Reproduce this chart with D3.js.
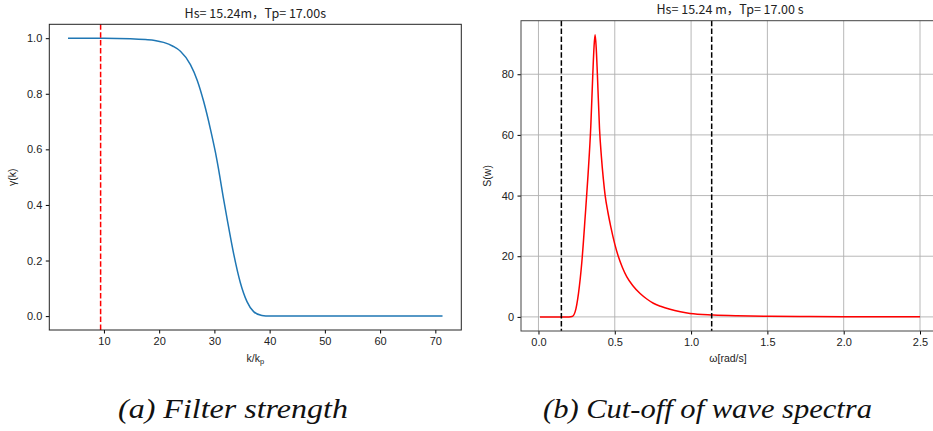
<!DOCTYPE html>
<html>
<head>
<meta charset="utf-8">
<script src="https://cdn.jsdelivr.net/npm/d3@7"></script>
<style>
  body { margin: 0; background: #fff; }
  svg { display: block; }
  .tick text { font-family: "Liberation Sans", Arial, sans-serif; font-size: 11px; fill: #222; }
</style>
</head>
<body>
<div id="chart"></div>
<script>
// Left panel: filter strength gamma(k) vs k/kp
var filterK   = [3.5, 10, 14.8, 17.5, 19.2, 20.8, 22.5, 23.85, 25.66, 26.9, 28.06, 29.27, 30.2, 30.96, 31.6, 32.3, 33.5, 34.7, 35.9, 37.1, 38.6, 40, 50, 60, 71.3];
var filterVal = [1, 1, 0.998, 0.995, 0.992, 0.985, 0.971, 0.953, 0.905, 0.848, 0.772, 0.674, 0.588, 0.505, 0.428, 0.35, 0.223, 0.12, 0.052, 0.016, 0.002, 0, 0, 0, 0];
var filterCut = 9.4;
var leftXTicks = [10, 20, 30, 40, 50, 60, 70];
var leftYTicks = [0.0, 0.2, 0.4, 0.6, 0.8, 1.0];

// Right panel: wave spectrum S(w) vs omega
var specW = [0.01, 0.1, 0.2, 0.22, 0.24, 0.262, 0.284, 0.306, 0.325, 0.343, 0.356, 0.364, 0.371, 0.378, 0.386, 0.400, 0.412, 0.425, 0.437, 0.455, 0.474, 0.5, 0.524, 0.55, 0.579, 0.62, 0.666, 0.71, 0.753, 0.8, 0.862, 0.93, 0.993, 1.146, 1.3, 1.5, 1.71, 2.0, 2.5];
var specS = [0, 0, 0, 0.1, 1.65, 7.7, 18, 33, 47, 63, 80, 89, 93, 89, 80, 62, 53, 45.5, 40, 34.5, 29.7, 24, 19.8, 16.3, 13.2, 10.2, 7.7, 5.9, 4.5, 3.5, 2.5, 1.7, 1.15, 0.66, 0.4, 0.22, 0.13, 0.07, 0.02];
var specCuts = [0.15, 1.135];
var rightXTicks = [0.0, 0.5, 1.0, 1.5, 2.0, 2.5];
var rightYTicks = [0, 20, 40, 60, 80];

var W = 933, H = 431;

var svg = d3.select("#chart").append("svg")
    .attr("width", W)
    .attr("height", H);

svg.append("rect").attr("width", W).attr("height", H).attr("fill", "#fff");

// ---------- left panel ----------
var L = {left: 49.3, right: 461.3, top: 24.3, bottom: 330};
var xL = d3.scaleLinear().domain([0.11, 74.7]).range([L.left, L.right]);
var yL = d3.scaleLinear().domain([-0.05, 1.05]).range([L.bottom, L.top]);

var gL = svg.append("g");

gL.append("path")
    .datum(filterK.map(function(k, i){ return [k, filterVal[i]]; }))
    .attr("fill", "none")
    .attr("stroke", "#1f77b4")
    .attr("stroke-width", 1.5)
    .attr("d", d3.line().x(d => xL(d[0])).y(d => yL(d[1])).curve(d3.curveMonotoneX));

gL.append("line")
    .attr("x1", xL(filterCut)).attr("x2", xL(filterCut))
    .attr("y1", L.top).attr("y2", L.bottom)
    .attr("stroke", "#ff0000")
    .attr("stroke-width", 1.5)
    .attr("stroke-dasharray", "5.5,2.4");

gL.append("g")
    .attr("transform", "translate(0," + L.bottom + ")")
    .call(d3.axisBottom(xL).tickValues(leftXTicks).tickFormat(d3.format("d")).tickSize(3.5).tickPadding(3.5))
    .call(g => g.select(".domain").remove());

gL.append("g")
    .attr("transform", "translate(" + L.left + ",0)")
    .call(d3.axisLeft(yL).tickValues(leftYTicks).tickFormat(d3.format(".1f")).tickSize(3.5).tickPadding(3.5))
    .call(g => g.select(".domain").remove());

gL.append("rect")
    .attr("x", L.left).attr("y", L.top)
    .attr("width", L.right - L.left).attr("height", L.bottom - L.top)
    .attr("fill", "none").attr("stroke", "#222").attr("stroke-width", 1);

gL.append("text")
    .attr("x", (L.left + L.right) / 2).attr("y", 18)
    .attr("text-anchor", "middle")
    .style("font-family", "'Noto Sans CJK SC', 'Liberation Sans', sans-serif")
    .style("font-size", "12.5px").attr("fill", "#222")
    .text("Hs= 15.24m，Tp= 17.00s");

var xlab = gL.append("text")
    .attr("x", (L.left + L.right) / 2).attr("y", 362)
    .attr("text-anchor", "middle")
    .style("font-family", "'Liberation Sans', Arial, sans-serif")
    .style("font-size", "10.5px").attr("fill", "#222");
xlab.append("tspan").text("k/k");
xlab.append("tspan").attr("baseline-shift", "-25%").style("font-size", "7.5px").text("p");

gL.append("text")
    .attr("transform", "translate(16," + (L.top + L.bottom) / 2 + ") rotate(-90)")
    .attr("text-anchor", "middle")
    .style("font-family", "'Liberation Sans', Arial, sans-serif")
    .style("font-size", "10.5px").attr("fill", "#222")
    .text("γ(k)");

// ---------- right panel ----------
var R = {left: 521, right: 939, top: 20.7, bottom: 331};
var xR = d3.scaleLinear().domain([-0.1145, 2.6245]).range([R.left, R.right]);
var yR = d3.scaleLinear().domain([-4.65, 97.65]).range([R.bottom, R.top]);

var gR = svg.append("g");

// grid
gR.selectAll(".vgrid").data(rightXTicks).enter().append("line")
    .attr("x1", d => xR(d)).attr("x2", d => xR(d))
    .attr("y1", R.top).attr("y2", R.bottom)
    .attr("stroke", "#b0b0b0").attr("stroke-width", 0.9);
gR.selectAll(".hgrid").data(rightYTicks).enter().append("line")
    .attr("x1", R.left).attr("x2", R.right)
    .attr("y1", d => yR(d)).attr("y2", d => yR(d))
    .attr("stroke", "#b0b0b0").attr("stroke-width", 0.9);

gR.append("path")
    .datum(specW.map(function(w, i){ return [w, specS[i]]; }))
    .attr("fill", "none")
    .attr("stroke", "#ff0000")
    .attr("stroke-width", 1.5)
    .attr("d", d3.line().x(d => xR(d[0])).y(d => yR(d[1])).curve(d3.curveMonotoneX));

gR.selectAll(".cut").data(specCuts).enter().append("line")
    .attr("x1", d => xR(d)).attr("x2", d => xR(d))
    .attr("y1", R.top).attr("y2", R.bottom)
    .attr("stroke", "#000")
    .attr("stroke-width", 1.5)
    .attr("stroke-dasharray", "5.5,2.4");

gR.append("g")
    .attr("transform", "translate(0," + R.bottom + ")")
    .call(d3.axisBottom(xR).tickValues(rightXTicks).tickFormat(d3.format(".1f")).tickSize(3.5).tickPadding(3.5))
    .call(g => g.select(".domain").remove());

gR.append("g")
    .attr("transform", "translate(" + R.left + ",0)")
    .call(d3.axisLeft(yR).tickValues(rightYTicks).tickFormat(d3.format("d")).tickSize(3.5).tickPadding(3.5))
    .call(g => g.select(".domain").remove());

gR.append("rect")
    .attr("x", R.left).attr("y", R.top)
    .attr("width", R.right - R.left).attr("height", R.bottom - R.top)
    .attr("fill", "none").attr("stroke", "#444").attr("stroke-width", 1);

gR.append("text")
    .attr("x", 730).attr("y", 14)
    .attr("text-anchor", "middle")
    .style("font-family", "'Noto Sans CJK SC', 'Liberation Sans', sans-serif")
    .style("font-size", "12.5px").attr("fill", "#222")
    .text("Hs= 15.24 m，Tp= 17.00 s");

gR.append("text")
    .attr("x", 728).attr("y", 362)
    .attr("text-anchor", "middle")
    .style("font-family", "'Liberation Sans', Arial, sans-serif")
    .style("font-size", "10.5px").attr("fill", "#222")
    .text("ω[rad/s]");

gR.append("text")
    .attr("transform", "translate(491," + (R.top + R.bottom) / 2 + ") rotate(-90)")
    .attr("text-anchor", "middle")
    .style("font-family", "'Liberation Sans', Arial, sans-serif")
    .style("font-size", "10.5px").attr("fill", "#222")
    .text("S(w)");

// ---------- captions ----------
svg.append("text")
    .attr("x", 118).attr("y", 418)
    .attr("textLength", 230).attr("lengthAdjust", "spacingAndGlyphs")
    .style("font-family", "'Liberation Serif', serif").style("font-style", "italic")
    .style("font-size", "27px").attr("fill", "#111")
    .text("(a) Filter strength");

svg.append("text")
    .attr("x", 543).attr("y", 418)
    .attr("textLength", 329).attr("lengthAdjust", "spacingAndGlyphs")
    .style("font-family", "'Liberation Serif', serif").style("font-style", "italic")
    .style("font-size", "27px").attr("fill", "#111")
    .text("(b) Cut-off of wave spectra");
</script>
</body>
</html>
